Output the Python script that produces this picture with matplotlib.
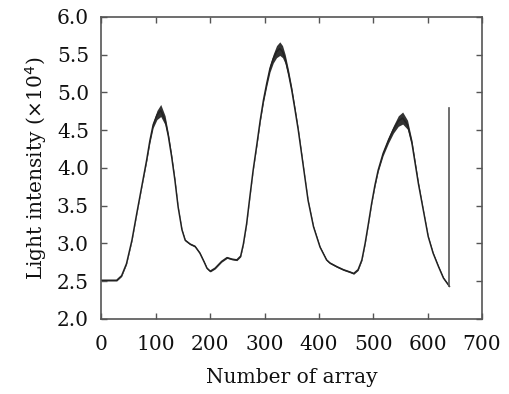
import matplotlib
matplotlib.use("Agg")
import matplotlib.pyplot as plt
import numpy as np

# data
x_pts = [0, 16, 28, 37, 46, 56, 65, 74, 83, 89, 95, 102, 109, 117, 123, 129, 135,
         141, 148, 154, 163, 172, 181, 189, 194, 200, 209, 221, 231, 240, 249, 256,
         261, 267, 273, 279, 286, 292, 298, 304, 310, 316, 322, 328, 333, 338, 344,
         350, 356, 362, 368, 374, 380, 390, 402, 414, 420, 433, 445, 457, 464, 472,
         479, 485, 491, 497, 503, 509, 518, 528, 537, 546, 554, 563, 571, 577, 583,
         592, 601, 610, 620, 629, 638, 640]
y_pts = [2.51, 2.51, 2.51, 2.57, 2.73, 3.04, 3.40, 3.75, 4.10, 4.36, 4.57, 4.70, 4.76,
         4.63, 4.42, 4.15, 3.84, 3.48, 3.18, 3.04, 2.99, 2.96, 2.87, 2.75, 2.67, 2.63,
         2.67, 2.76, 2.81, 2.79, 2.78, 2.83, 2.99, 3.26, 3.62, 3.97, 4.32, 4.63, 4.90,
         5.12, 5.32, 5.45, 5.54, 5.58, 5.54, 5.44, 5.25, 5.03, 4.77, 4.50, 4.19, 3.88,
         3.57, 3.22, 2.95, 2.78, 2.74, 2.69, 2.65, 2.62, 2.60, 2.65, 2.78, 3.00, 3.26,
         3.53, 3.77, 3.97, 4.19, 4.37, 4.51, 4.62, 4.66, 4.57, 4.33, 4.06, 3.79, 3.44,
         3.09, 2.87, 2.69, 2.54, 2.45, 2.43]
band = [0.01, 0.01, 0.01, 0.01, 0.01, 0.01, 0.01, 0.01, 0.02, 0.03, 0.04, 0.06, 0.08,
        0.06, 0.04, 0.03, 0.02, 0.01, 0.01, 0.01, 0.01, 0.01, 0.01, 0.01, 0.01, 0.01,
        0.01, 0.01, 0.01, 0.01, 0.01, 0.01, 0.01, 0.01, 0.01, 0.01, 0.02, 0.02, 0.03,
        0.04, 0.05, 0.06, 0.08, 0.09, 0.08, 0.06, 0.05, 0.04, 0.03, 0.02, 0.02, 0.01,
        0.01, 0.01, 0.01, 0.01, 0.01, 0.01, 0.01, 0.01, 0.01, 0.01, 0.01, 0.01, 0.01,
        0.01, 0.02, 0.02, 0.03, 0.04, 0.05, 0.07, 0.08, 0.06, 0.04, 0.03, 0.02, 0.01,
        0.01, 0.01, 0.01, 0.01, 0.01, 0.01]
end_x = [640, 640]
end_y = [2.43, 4.79]

xticks = [0, 100, 200, 300, 400, 500, 600, 700]
yticks = [2.0, 2.5, 3.0, 3.5, 4.0, 4.5, 5.0, 5.5, 6.0]

plt.rcParams['font.family'] = ['DejaVu Serif']
fig = plt.figure(figsize=(5.09, 3.94), dpi=100)
ax = fig.add_axes([0.1994, 0.191, 0.7476, 0.766])

xs = np.array(x_pts, dtype=float)
ys = np.array(y_pts)
bw = np.array(band)
ax.fill_between(xs, ys - bw, ys + bw, color='#333333', linewidth=0)
ax.plot(xs, ys, color='#222222', linewidth=1.1)
ax.plot(end_x, end_y, color='#555555', linewidth=1.2)

ax.set_xlim(0, 700)
ax.set_ylim(2.0, 6.0)
ax.set_xticks(xticks)
ax.set_yticks(yticks)
ax.set_xticklabels([str(t) for t in xticks])
ax.set_yticklabels([f"{t:.1f}" for t in yticks])
ax.tick_params(direction='in', top=True, right=True, length=4, width=1,
               color='#555555', labelsize=14.5, labelcolor='#111111')
ax.tick_params(axis='x', pad=12)
ax.tick_params(axis='y', pad=9)
for s in ax.spines.values():
    s.set_color('#555555')
    s.set_linewidth(1.2)

ax.set_xlabel('Number of array', fontsize=14.5, color='#111111', labelpad=10)
ax.set_ylabel(r'Light intensity ($\times$10$^4$)', fontsize=14.5, color='#111111', labelpad=6)

fig.savefig('out.png', dpi=100)
